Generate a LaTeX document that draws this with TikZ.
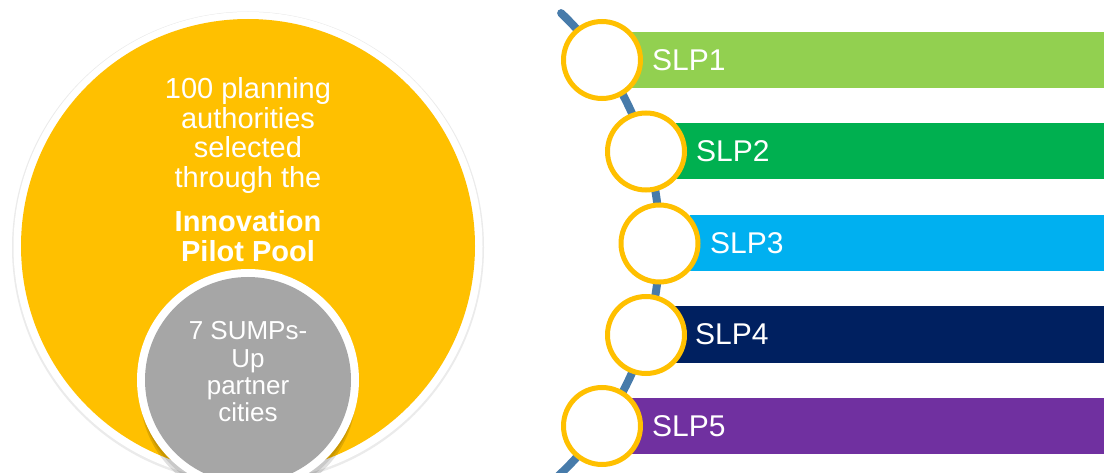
\documentclass[tikz,border=0pt]{standalone}
\usepackage{fontspec}
\setmainfont{Liberation Sans}
\definecolor{gold}{HTML}{FFC000}
\definecolor{greyfill}{HTML}{A6A6A6}
\definecolor{slpA}{HTML}{92D050}
\definecolor{slpB}{HTML}{00B050}
\definecolor{slpC}{HTML}{00B0F0}
\definecolor{slpD}{HTML}{002060}
\definecolor{slpE}{HTML}{7030A0}
\definecolor{arcblue}{HTML}{477BAA}
\tikzset{
  disc/.style={circle, inner sep=0pt, outer sep=0pt},
  txt/.style={text=white, align=center, inner sep=0pt, anchor=north},
  ring/.style={circle, draw=gold, line width=5pt, fill=white, minimum size=77pt, inner sep=0pt},
  bar/.style={rectangle, minimum width=500pt, minimum height=56pt, inner sep=0pt, anchor=west},
  lbl/.style={text=white, inner sep=0pt, anchor=west, font=\fontsize{30}{32}\selectfont},
  arcline/.style={draw=arcblue, line width=8pt, line cap=round}
}
\begin{document}
\begin{tikzpicture}[x=1pt,y=-1pt]
\useasboundingbox (0,0) rectangle (1104,473);
\clip (0,0) rectangle (1104,473);
\fill[white] (0,0) rectangle (1104,473);
% left: big circle
\node[disc, fill=black!8, minimum size=472pt] (bigshadow) at (248,247.5) {};
\node[disc, fill=white, minimum size=469pt] (bigring) at (248,246.5) {};
\node[disc, fill=gold, minimum size=454pt] (big) at (248,246) {};
\node[txt, font=\fontsize{29}{29.7}\selectfont] (t1) at (248,77.2) {100 planning\\authorities\\selected\\through the};
\node[txt, font=\bfseries\fontsize{29}{30}\selectfont] (t2) at (248,210.2) {Innovation\\Pilot Pool};
% small circle
\node[disc, fill=black, opacity=0.12, minimum size=216pt] (smallshadow) at (248,393) {};
\node[disc, fill=black, opacity=0.10, minimum size=216pt] (smallshadow2) at (248,389) {};
\node[disc, fill=white, minimum size=222pt] (smallring) at (248,380) {};
\node[disc, fill=greyfill, minimum size=206pt] (small) at (248,380) {};
\node[txt, font=\fontsize{26}{27.3}\selectfont] (t3) at (248,321.4) {7 SUMPs-\\Up\\partner\\cities};
% right: arc
\coordinate (arcstart) at (561.1,13.1);
\draw[arcline] (arcstart) arc[start angle=-46.4, end angle=50, radius=317.7];
% bars
\node[bar, fill=slpA] (b1) at (632,60) {};
\node[bar, fill=slpB] (b2) at (676,151.5) {};
\node[bar, fill=slpC] (b3) at (690,243) {};
\node[bar, fill=slpD] (b4) at (675,334.5) {};
\node[bar, fill=slpE] (b5) at (632,426) {};
\node[lbl] (l1) at ([xshift=20pt]b1.west) {SLP1};
\node[lbl] (l2) at ([xshift=20pt]b2.west) {SLP2};
\node[lbl] (l3) at ([xshift=20pt]b3.west) {SLP3};
\node[lbl] (l4) at ([xshift=20pt]b4.west) {SLP4};
\node[lbl] (l5) at ([xshift=20pt]b5.west) {SLP5};
% rings
\node[ring] (c1) at (602,60) {};
\node[ring] (c2) at (646,151.5) {};
\node[ring] (c3) at (659.5,243.5) {};
\node[ring] (c4) at (646,335) {};
\node[ring] (c5) at (602,426) {};
\end{tikzpicture}
\end{document}
